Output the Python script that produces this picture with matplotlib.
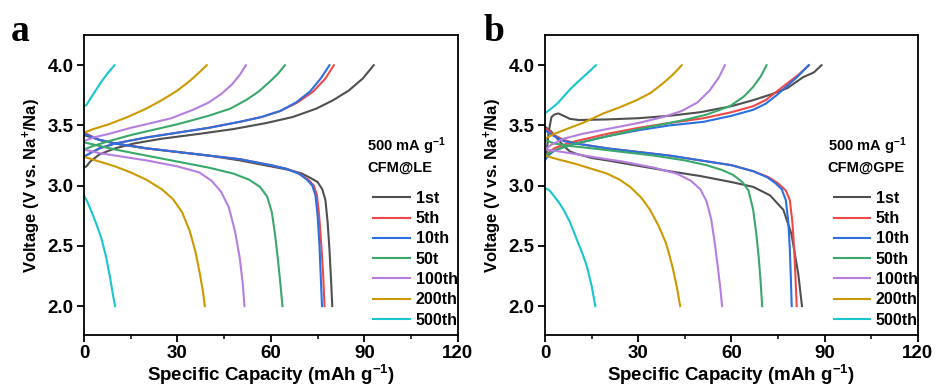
import numpy as np
import matplotlib
matplotlib.use("Agg")
import matplotlib.pyplot as plt

plt.rcParams['font.family'] = ['Liberation Sans', 'DejaVu Sans']
plt.rcParams['font.weight'] = 'bold'
plt.rcParams['mathtext.default'] = 'regular'

cycles = ['1st', '5th', '10th', '50th', '100th', '200th', '500th']
labels_a = ['1st', '5th', '10th', '50t', '100th', '200th', '500th']
colors = ['#505050', '#f04848', '#2a70e0', '#3aa86a', '#b57ee0', '#cc9a00', '#19c6cf']

# panel a (CFM@LE): charge curves
a_chg_cap = [
    [0, 0.8, 2, 5, 10, 16, 25, 37, 48, 58.5, 67, 74.6, 80, 85, 89.5, 93],
    [0, 2, 5, 10, 20, 30, 40, 50, 57, 63, 68.5, 73.5, 77.5, 80.2],
    [0, 2, 5, 10, 20, 30, 40, 50, 57, 63, 68, 72.5, 76, 78.8],
    [0, 3, 8, 15, 20, 30, 40, 47, 52, 56, 59.5, 62.3, 64.5],
    [0, 3, 8, 15, 20, 28, 35, 40, 44, 47.5, 50, 52],
    [0, 3, 8, 14, 20, 25, 30, 34, 37, 39.4],
    [0, 0.8, 2, 3.5, 5.5, 7.5, 9.8],
]
a_chg_v = [
    [3.15, 3.16, 3.20, 3.26, 3.31, 3.35, 3.39, 3.43, 3.47, 3.52, 3.57, 3.64, 3.71, 3.79, 3.89, 4.0],
    [3.24, 3.27, 3.31, 3.35, 3.40, 3.44, 3.48, 3.53, 3.57, 3.62, 3.69, 3.78, 3.89, 4.0],
    [3.24, 3.27, 3.31, 3.35, 3.40, 3.44, 3.48, 3.53, 3.57, 3.62, 3.69, 3.78, 3.89, 4.0],
    [3.30, 3.33, 3.37, 3.42, 3.45, 3.51, 3.58, 3.64, 3.71, 3.78, 3.86, 3.93, 4.0],
    [3.37, 3.40, 3.43, 3.48, 3.51, 3.56, 3.63, 3.69, 3.76, 3.84, 3.92, 4.0],
    [3.44, 3.47, 3.51, 3.57, 3.64, 3.71, 3.79, 3.87, 3.94, 4.0],
    [3.66, 3.67, 3.72, 3.78, 3.86, 3.93, 4.0],
]
# panel a: discharge curves
a_dis_cap = [
    [0, 5, 10, 20, 30, 40, 50, 60, 66, 70, 73, 75, 76.5, 77.5, 78.2, 78.8, 79.3, 79.7],
    [0, 5, 10, 20, 30, 40, 50, 60, 65, 69, 72, 73.8, 74.8, 75.5, 76.2, 76.8, 77.2],
    [0, 5, 10, 20, 30, 40, 50, 60, 65, 69, 71.6, 73.3, 74.3, 75.0, 75.6, 76.0, 76.4],
    [0, 5, 10, 20, 30, 40, 48, 53, 56.5, 58.8, 60.3, 61.3, 62.2, 63, 63.7],
    [0, 5, 10, 20, 30, 37, 41, 44, 46.5, 48.5, 50, 51, 51.5],
    [0, 5, 10, 15, 20, 25, 28.5, 31.5, 34, 35.8, 37.2, 38.2, 38.8],
    [0, 1, 2.5, 4, 5.5, 7, 8.3, 9.4, 10],
]
a_dis_v = [
    [3.42, 3.38, 3.35, 3.31, 3.28, 3.25, 3.21, 3.16, 3.13, 3.10, 3.06, 3.03, 2.97, 2.88, 2.70, 2.47, 2.22, 2.0],
    [3.44, 3.38, 3.35, 3.31, 3.28, 3.25, 3.22, 3.17, 3.14, 3.10, 3.05, 3.0, 2.92, 2.75, 2.5, 2.25, 2.0],
    [3.43, 3.38, 3.35, 3.31, 3.28, 3.25, 3.22, 3.17, 3.14, 3.10, 3.05, 3.0, 2.92, 2.75, 2.5, 2.25, 2.0],
    [3.36, 3.33, 3.30, 3.25, 3.20, 3.15, 3.10, 3.05, 2.99, 2.91, 2.78, 2.60, 2.40, 2.20, 2.0],
    [3.30, 3.27, 3.25, 3.21, 3.16, 3.11, 3.04, 2.95, 2.82, 2.62, 2.40, 2.18, 2.0],
    [3.24, 3.20, 3.16, 3.11, 3.05, 2.97, 2.89, 2.78, 2.62, 2.45, 2.27, 2.12, 2.0],
    [2.92, 2.87, 2.78, 2.68, 2.57, 2.42, 2.25, 2.08, 2.0],
]

# panel b (CFM@GPE): charge curves
b_chg_cap = [
    [0, 0.5, 1.2, 2.1, 3, 4.3, 6, 8, 11, 20, 30, 40, 50, 60, 67, 73, 78, 83, 86.5, 89],
    [0, 1, 3, 6, 10, 20, 30, 40, 51, 60, 67, 71, 74.5, 78, 81.5, 85],
    [0, 1, 3, 6, 10, 20, 30, 40, 51, 60, 67, 71, 74.5, 78, 81.5, 84.8],
    [0, 2, 5, 10, 20, 30, 40, 45.6, 52, 59.5, 64, 67, 69.5, 71.3],
    [0, 2, 6, 12, 20, 30, 38, 44, 49, 51, 53, 56, 57.9],
    [0, 3, 8, 13, 18.8, 24, 29.5, 34, 38, 41.5, 44],
    [0, 1, 2.5, 3.9, 6, 8.1, 10.5, 13.5, 16.4],
]
b_chg_v = [
    [3.22, 3.27, 3.45, 3.57, 3.59, 3.60, 3.58, 3.555, 3.545, 3.55, 3.56, 3.58, 3.61, 3.66, 3.71, 3.76, 3.81, 3.90, 3.94, 4.0],
    [3.24, 3.27, 3.31, 3.34, 3.37, 3.43, 3.48, 3.52, 3.56, 3.61, 3.66, 3.71, 3.78, 3.85, 3.92, 4.0],
    [3.21, 3.25, 3.29, 3.32, 3.35, 3.41, 3.46, 3.50, 3.53, 3.58, 3.63, 3.68, 3.75, 3.83, 3.91, 4.0],
    [3.25, 3.28, 3.31, 3.35, 3.41, 3.47, 3.52, 3.55, 3.59, 3.66, 3.74, 3.82, 3.91, 4.0],
    [3.30, 3.34, 3.39, 3.43, 3.47, 3.52, 3.57, 3.62, 3.69, 3.74, 3.79, 3.90, 4.0],
    [3.39, 3.43, 3.48, 3.53, 3.60, 3.65, 3.71, 3.77, 3.85, 3.93, 4.0],
    [3.60, 3.62, 3.65, 3.68, 3.74, 3.80, 3.86, 3.93, 4.0],
]
# panel b: discharge curves
b_dis_cap = [
    [0, 2, 4, 6, 8, 10, 15, 20, 30, 40, 50, 60, 67, 72.4, 76.7, 79.3, 81.5, 82.7],
    [0, 3, 6, 10, 20, 30, 40, 50, 60, 67, 72, 75, 77.5, 78.8, 79.6, 80.2, 80.6, 81],
    [0, 3, 6, 10, 20, 30, 40, 50, 60, 67, 71.5, 74.2, 76.2, 77.5, 78.3, 78.8, 79.1, 79.4],
    [0, 3, 8, 15, 25, 35, 45, 52, 57, 60.5, 63.5, 65.5, 67, 68, 68.8, 69.4, 69.9],
    [0, 3, 8, 15, 25, 35, 42.4, 47, 50, 52, 53.5, 54.5, 55.5, 56.3, 57],
    [0, 4, 10, 15, 20, 24, 27.4, 31, 33.8, 36.5, 39, 41, 42.5, 43.5],
    [0, 1.5, 3, 4.5, 6, 8, 10.3, 12, 13.5, 15, 16.2],
]
b_dis_v = [
    [3.49, 3.45, 3.39, 3.33, 3.285, 3.265, 3.23, 3.21, 3.165, 3.12, 3.08, 3.03, 2.99, 2.92, 2.80, 2.60, 2.27, 2.0],
    [3.48, 3.42, 3.38, 3.35, 3.31, 3.28, 3.25, 3.21, 3.17, 3.12, 3.07, 3.02, 2.96, 2.88, 2.70, 2.47, 2.25, 2.0],
    [3.46, 3.41, 3.37, 3.35, 3.31, 3.28, 3.25, 3.21, 3.17, 3.12, 3.07, 3.02, 2.97, 2.88, 2.70, 2.47, 2.25, 2.0],
    [3.38, 3.35, 3.33, 3.31, 3.28, 3.25, 3.21, 3.17, 3.13, 3.09, 3.03, 2.96, 2.80, 2.60, 2.40, 2.20, 2.0],
    [3.30, 3.29, 3.27, 3.24, 3.20, 3.15, 3.10, 3.04, 2.97, 2.87, 2.72, 2.55, 2.35, 2.18, 2.0],
    [3.25, 3.22, 3.18, 3.14, 3.10, 3.05, 2.99, 2.90, 2.80, 2.67, 2.52, 2.33, 2.15, 2.0],
    [2.98, 2.96, 2.91, 2.86, 2.80, 2.70, 2.55, 2.44, 2.33, 2.17, 2.0],
]

fig = plt.figure(figsize=(9.37, 3.92), dpi=100)
ax_a = fig.add_axes([0.0896, 0.1454, 0.399, 0.765])
ax_b = fig.add_axes([0.5816, 0.1454, 0.398, 0.765])

panels = [
    (ax_a, a_chg_cap, a_chg_v, a_dis_cap, a_dis_v, labels_a, 'CFM@LE', 'a', 0.011),
    (ax_b, b_chg_cap, b_chg_v, b_dis_cap, b_dis_v, cycles, 'CFM@GPE', 'b', 0.516),
]

for ax, cc, cv, dc, dv, labs, name, letter, lx in panels:
    for i in range(len(cycles)):
        ax.plot(cc[i], cv[i], color=colors[i], lw=1.5, label=labs[i])
        ax.plot(dc[i], dv[i], color=colors[i], lw=1.5)
    ax.set_xlim(0, 120)
    ax.set_ylim(1.76, 4.25)
    ax.set_xticks([0, 30, 60, 90, 120])
    ax.set_xticks([15, 45, 75, 105], minor=True)
    ax.set_yticks([2.0, 2.5, 3.0, 3.5, 4.0])
    ax.yaxis.set_major_formatter(matplotlib.ticker.FormatStrFormatter('%.1f'))
    ax.tick_params(which='major', direction='out', length=5, width=1.3, labelsize=13.5, pad=2.5)
    ax.tick_params(which='minor', direction='out', length=3, width=1.1)
    for s in ax.spines.values():
        s.set_linewidth(1.3)
    ax.set_xlabel('Specific Capacity (mAh g$^{-1}$)', fontsize=13.5, fontweight='bold', labelpad=0)
    ax.set_ylabel('Voltage (V vs. Na$^{+}$/Na)', fontsize=12, fontweight='bold', labelpad=3)
    leg = ax.legend(loc='lower right', bbox_to_anchor=(1.0, 0.025), frameon=False,
                    fontsize=11.5, handlelength=2.3, handletextpad=0.35, labelspacing=0.33,
                    borderpad=0, borderaxespad=0)
    ax.text(0.758, 0.665, '500 mA g$^{-1}$\n' + name, transform=ax.transAxes,
            fontsize=10.5, fontweight='bold', va='top', ha='left', linespacing=1.35)
    fig.text(lx, 0.895, letter, family='Liberation Serif', fontweight='bold', fontsize=27)

fig.savefig('out.png', dpi=100)
